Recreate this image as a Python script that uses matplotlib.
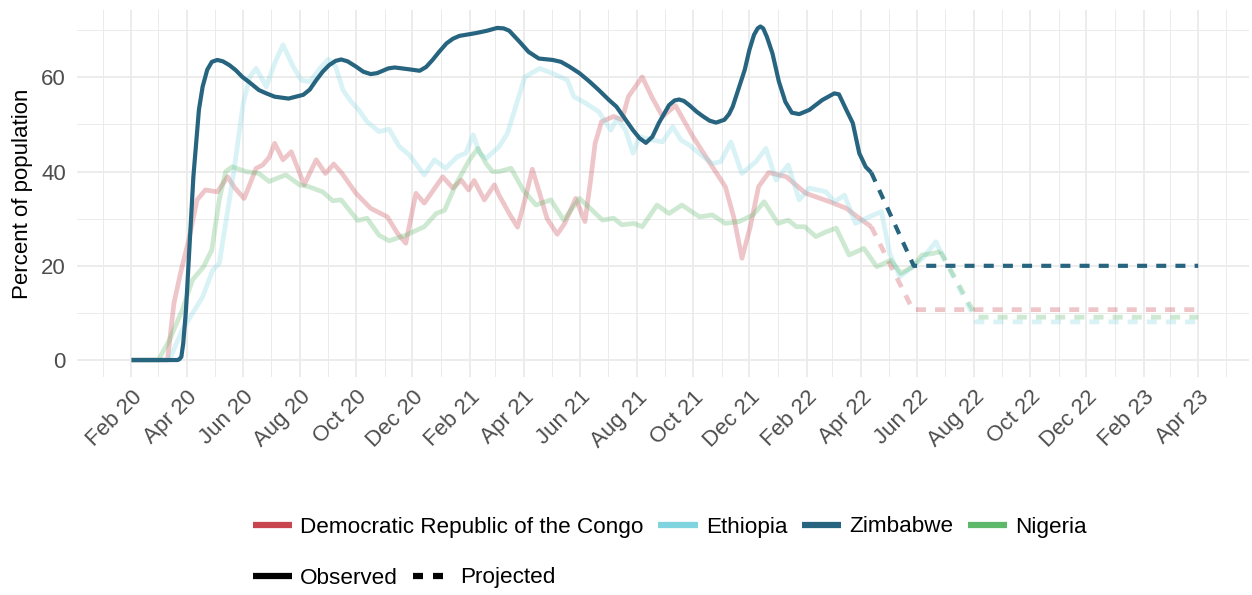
import numpy as np
import pandas as pd
import matplotlib
matplotlib.use("Agg")
import matplotlib.pyplot as plt
import matplotlib.dates as mdates
from matplotlib.lines import Line2D
from matplotlib.ticker import MultipleLocator

plt.rcParams['font.family'] = ['Liberation Sans', 'DejaVu Sans']

# ---- data (percent of population) ----
zim_obs_dates = ["2020-02-01", "2020-03-22", "2020-03-24", "2020-03-26", "2020-03-28", "2020-03-31",
                 "2020-04-02", "2020-04-05", "2020-04-08", "2020-04-11", "2020-04-14", "2020-04-18",
                 "2020-04-23", "2020-04-28", "2020-05-04", "2020-05-10", "2020-05-17", "2020-05-24",
                 "2020-05-31", "2020-06-08", "2020-06-18", "2020-06-26", "2020-07-05", "2020-07-20",
                 "2020-08-05", "2020-08-12", "2020-08-19", "2020-08-26", "2020-09-02", "2020-09-09",
                 "2020-09-15", "2020-09-22", "2020-10-01", "2020-10-09", "2020-10-17", "2020-10-24",
                 "2020-10-30", "2020-11-05", "2020-11-12", "2020-11-20", "2020-11-28", "2020-12-09",
                 "2020-12-16", "2020-12-23", "2020-12-30", "2021-01-07", "2021-01-14", "2021-01-21",
                 "2021-02-08", "2021-02-20", "2021-03-03", "2021-03-10", "2021-03-16", "2021-03-27",
                 "2021-04-06", "2021-04-17", "2021-05-02", "2021-05-11", "2021-05-20", "2021-05-31",
                 "2021-06-11", "2021-06-21", "2021-07-02", "2021-07-10", "2021-07-19", "2021-07-28",
                 "2021-08-04", "2021-08-11", "2021-08-18", "2021-08-25", "2021-09-05", "2021-09-11",
                 "2021-09-16", "2021-09-21", "2021-09-27", "2021-10-05", "2021-10-12", "2021-10-19",
                 "2021-10-26", "2021-11-04", "2021-11-09", "2021-11-13", "2021-11-20", "2021-11-26",
                 "2021-12-01", "2021-12-06", "2021-12-10", "2021-12-13", "2021-12-16", "2021-12-20",
                 "2021-12-26", "2022-01-02", "2022-01-09", "2022-01-16", "2022-01-24", "2022-02-04",
                 "2022-02-18", "2022-03-03", "2022-03-08", "2022-03-16", "2022-03-23", "2022-03-30",
                 "2022-04-06", "2022-04-12"]
zim_obs_vals = [0, 0, 0.2, 0.7, 3.5, 10.6,
                17.7, 28.3, 38.9, 46, 53.1, 58,
                61.6, 63.3, 63.7, 63.4, 62.6, 61.5,
                60.1, 58.9, 57.3, 56.6, 55.9, 55.5,
                56.3, 57.4, 59.4, 61.2, 62.6, 63.5,
                63.8, 63.4, 62.3, 61.2, 60.7, 60.9,
                61.4, 61.9, 62.1, 61.9, 61.7, 61.4,
                62.2, 63.7, 65.4, 67.2, 68.2, 68.8,
                69.4, 69.9, 70.5, 70.4, 69.9, 67.6,
                65.4, 64.0, 63.7, 63.3, 62.3, 60.9,
                59.1, 57.3, 55.2, 53.8, 51.3, 48.8,
                47.1, 46.1, 47.4, 50.3, 54.1, 55.1,
                55.3, 55.0, 54.1, 52.7, 51.7, 50.8,
                50.4, 51.0, 52.2, 53.8, 58.0, 61.6,
                65.8, 69.0, 70.4, 70.8, 70.4, 68.6,
                65.1, 59.1, 54.8, 52.5, 52.2, 53.1,
                55.2, 56.6, 56.4, 53.1, 50.3, 43.9,
                41.0, 39.8]
zim_proj_dates = ["2022-04-12", "2022-05-28", "2023-04-01"]
zim_proj_vals = [39.8, 20.0, 20.0]

drc_obs_dates = ["2020-02-01", "2020-03-11", "2020-03-15", "2020-03-18", "2020-03-25", "2020-04-03",
                 "2020-04-12", "2020-04-21", "2020-05-04", "2020-05-15", "2020-05-23", "2020-06-02",
                 "2020-06-15", "2020-06-22", "2020-06-29", "2020-07-05", "2020-07-14", "2020-07-23",
                 "2020-08-06", "2020-08-19", "2020-08-29", "2020-09-07", "2020-09-16", "2020-10-01",
                 "2020-10-17", "2020-11-04", "2020-11-15", "2020-11-24", "2020-12-05", "2020-12-14",
                 "2021-01-03", "2021-01-14", "2021-01-23", "2021-01-31", "2021-02-06", "2021-02-17",
                 "2021-02-28", "2021-03-05", "2021-03-16", "2021-03-25", "2021-04-02", "2021-04-10",
                 "2021-04-17", "2021-04-26", "2021-05-07", "2021-05-15", "2021-05-27", "2021-06-06",
                 "2021-06-12", "2021-06-17", "2021-06-24", "2021-07-07", "2021-07-16", "2021-07-23",
                 "2021-08-07", "2021-08-18", "2021-08-29", "2021-09-12", "2021-10-01", "2021-10-22",
                 "2021-11-05", "2021-11-14", "2021-11-23", "2021-12-02", "2021-12-11", "2021-12-22",
                 "2022-01-10", "2022-01-31", "2022-02-26", "2022-03-16", "2022-03-30", "2022-04-12"]
drc_obs_vals = [0, 0, 7, 12.1, 18.4, 25.5, 34, 36.1, 35.7, 38.9, 36.5, 34.3, 40.7, 41.4, 43, 46, 42.5,
                44.2, 37.2, 42.5, 39.6, 41.6, 39.6, 35.4, 32.2, 30.4, 26.9, 24.8, 35.4, 33.3, 38.9, 36.5,
                38.2, 36.1, 38.1, 34, 37.2, 35, 31.1, 28.2, 34, 40.5, 36, 30, 26.7, 29, 34.3, 29.4, 38,
                46, 50.6, 51.7, 51, 55.9, 60.1, 55.6, 51.7, 54, 47.4, 41, 36.8, 30.4, 21.6, 28.3, 36.8,
                39.8, 38.9, 35.4, 33.6, 32.2, 30.1, 28.3]
drc_proj_dates = ["2022-04-12", "2022-05-27", "2023-04-01"]
drc_proj_vals = [28.3, 10.7, 10.7]

eth_obs_dates = ["2020-02-01", "2020-03-13", "2020-03-27", "2020-04-07", "2020-04-18", "2020-04-29",
                 "2020-05-06", "2020-05-13", "2020-05-22", "2020-06-01", "2020-06-08", "2020-06-15",
                 "2020-06-26", "2020-07-05", "2020-07-14", "2020-07-25", "2020-08-03", "2020-08-12",
                 "2020-08-23", "2020-09-01", "2020-09-09", "2020-09-17", "2020-09-26", "2020-10-04",
                 "2020-10-13", "2020-10-26", "2020-11-06", "2020-11-17", "2020-11-28", "2020-12-14",
                 "2020-12-25", "2021-01-06", "2021-01-19", "2021-01-28", "2021-02-05", "2021-02-12",
                 "2021-02-19", "2021-03-05", "2021-03-14", "2021-03-23", "2021-04-02", "2021-04-18",
                 "2021-05-06", "2021-05-18", "2021-05-25", "2021-06-07", "2021-06-21", "2021-07-04",
                 "2021-07-11", "2021-07-20", "2021-07-28", "2021-08-04", "2021-08-18", "2021-08-29",
                 "2021-09-09", "2021-09-18", "2021-09-27", "2021-10-12", "2021-10-22", "2021-10-31",
                 "2021-11-11", "2021-11-23", "2021-12-08", "2021-12-19", "2021-12-30", "2022-01-12",
                 "2022-01-24", "2022-02-04", "2022-02-22", "2022-03-03", "2022-03-14", "2022-03-26",
                 "2022-04-10", "2022-04-23", "2022-05-02", "2022-05-13", "2022-05-27", "2022-06-08",
                 "2022-06-21", "2022-06-26"]
eth_obs_vals = [0, 0, 6.4, 9.9, 13.4, 19.1, 20.5, 29, 40.3, 54.5, 60.1, 61.9, 58, 63, 66.9, 62.3, 59.4,
                59.1, 61.9, 63.8, 62.3, 57.3, 54.8, 53.1, 50.6, 48.5, 49, 45.3, 43.5, 39.3, 42.5, 40.7,
                43.2, 43.9, 47.8, 43.9, 42.8, 45.3, 48.1, 53.8, 60.1, 61.9, 60.5, 59.4, 55.9, 54.5, 52.7,
                48.8, 51.3, 48.8, 43.9, 47.4, 46.7, 46.3, 49.5, 46.7, 45.6, 43.2, 41.7, 42.1, 46.3, 39.6,
                42.1, 44.9, 38.2, 41.4, 34, 36.5, 35.7, 33.6, 35, 29, 30.4, 31.5, 22.6, 17.7, 19.8, 21.9,
                25.1, 23]
eth_proj_dates = ["2022-06-26", "2022-08-04", "2023-04-01"]
eth_proj_vals = [23, 8.1, 8.1]

nga_obs_dates = ["2020-02-01", "2020-03-01", "2020-03-13", "2020-03-27", "2020-04-07", "2020-04-19",
                 "2020-04-28", "2020-05-06", "2020-05-13", "2020-05-20", "2020-06-04", "2020-06-18",
                 "2020-06-29", "2020-07-17", "2020-08-01", "2020-08-11", "2020-08-26", "2020-09-06",
                 "2020-09-15", "2020-10-03", "2020-10-13", "2020-10-26", "2020-11-06", "2020-11-24",
                 "2020-12-14", "2020-12-27", "2021-01-05", "2021-01-17", "2021-02-01", "2021-02-10",
                 "2021-02-19", "2021-02-26", "2021-03-05", "2021-03-18", "2021-03-31", "2021-04-14",
                 "2021-04-30", "2021-05-14", "2021-05-31", "2021-06-10", "2021-06-25", "2021-07-07",
                 "2021-07-16", "2021-07-29", "2021-08-07", "2021-08-23", "2021-09-05", "2021-09-19",
                 "2021-10-08", "2021-10-22", "2021-11-05", "2021-11-20", "2021-12-05", "2021-12-17",
                 "2022-01-01", "2022-01-12", "2022-01-21", "2022-01-30", "2022-02-11", "2022-02-22",
                 "2022-03-05", "2022-03-19", "2022-04-04", "2022-04-18", "2022-05-03", "2022-05-14",
                 "2022-05-27", "2022-06-06", "2022-06-17", "2022-06-26"]
nga_obs_vals = [0, 0, 4.2, 10.6, 17, 19.8, 23.4, 34, 40, 41, 40, 39.6, 37.9, 39.3, 37.2, 36.8, 35.7,
                33.8, 34, 29.6, 30.1, 26.5, 25.3, 26.5, 28.3, 31.1, 31.8, 37.2, 42.5, 44.9, 41.7, 40,
                40, 40.7, 36.1, 32.9, 34, 29.7, 34.3, 32.5, 29.7, 30.1, 28.7, 29, 28.3, 32.9, 31.1, 32.9,
                30.4, 30.8, 29, 29.4, 30.8, 33.6, 29, 29.7, 28.3, 28.3, 26.2, 27.2, 28, 22.3, 23.7, 19.8,
                21.2, 18.4, 19.8, 22.3, 22.6, 23]
nga_proj_dates = ["2022-06-26", "2022-08-04", "2023-04-01"]
nga_proj_vals = [23, 9.1, 9.1]

countries = ["Democratic Republic of the Congo", "Ethiopia", "Zimbabwe", "Nigeria"]
colors = {"Democratic Republic of the Congo": "#c8454f", "Ethiopia": "#7fd4df",
          "Zimbabwe": "#27647f", "Nigeria": "#5db86a"}
series = {
    "Democratic Republic of the Congo": (drc_obs_dates, drc_obs_vals, drc_proj_dates, drc_proj_vals),
    "Ethiopia": (eth_obs_dates, eth_obs_vals, eth_proj_dates, eth_proj_vals),
    "Nigeria": (nga_obs_dates, nga_obs_vals, nga_proj_dates, nga_proj_vals),
    "Zimbabwe": (zim_obs_dates, zim_obs_vals, zim_proj_dates, zim_proj_vals),
}

fig = plt.figure(figsize=(12.52, 5.95), dpi=100)
ax = fig.add_axes([77 / 1252, 1 - 377 / 595, (1249 - 77) / 1252, 367 / 595])

for name in ["Democratic Republic of the Congo", "Ethiopia", "Nigeria", "Zimbabwe"]:
    od, ov, pd_, pv = series[name]
    if name == "Zimbabwe":
        a, lw = 1.0, 3.0
    else:
        a, lw = 0.3, 3.4
    dash = (0, (7.2 / lw, 6.6 / lw))
    ax.plot(pd.to_datetime(pd_), pv, color=colors[name], lw=lw, alpha=a, ls=dash,
            dash_capstyle='butt')
    ax.plot(pd.to_datetime(od), ov, color=colors[name], lw=lw, alpha=a,
            solid_capstyle='butt', solid_joinstyle='round')

ax.set_xlim(pd.Timestamp("2019-12-04"), pd.Timestamp("2023-05-26"))
ax.set_ylim(-3.6, 74.3)

ax.xaxis.set_major_locator(mdates.MonthLocator(bymonth=[2, 4, 6, 8, 10, 12]))
ax.xaxis.set_minor_locator(mdates.MonthLocator())
ax.xaxis.set_major_formatter(mdates.DateFormatter("%b %y"))
ax.yaxis.set_major_locator(MultipleLocator(20))
ax.yaxis.set_minor_locator(MultipleLocator(10))

ax.grid(which='major', color='#ebebeb', lw=1.3)
ax.grid(which='minor', color='#ebebeb', lw=0.7)
ax.set_axisbelow(True)
for s in ax.spines.values():
    s.set_visible(False)
ax.tick_params(which='both', length=0, labelsize=16, labelcolor='#4d4d4d')
ax.tick_params(axis='y', pad=8)
ax.tick_params(axis='x', pad=7)
for lab in ax.get_xticklabels():
    lab.set_rotation(45)
    lab.set_ha('right')
    lab.set_va('top')
    lab.set_rotation_mode('anchor')

ax.set_ylabel("Percent of population", fontsize=16, color='black', labelpad=6)

# legends
col_handles = [Line2D([], [], color=colors[c], lw=4.5, solid_capstyle='butt') for c in countries]
leg1 = fig.legend(col_handles, countries, loc='center left', bbox_to_anchor=(253 / 1252, 1 - 527 / 595),
                  ncol=4, frameon=False, fontsize=16.2, handlelength=1.75, handletextpad=0.35,
                  columnspacing=0.65, borderpad=0, borderaxespad=0)
lt_handles = [Line2D([], [], color='black', lw=4.5, solid_capstyle='butt'),
              Line2D([], [], color='black', lw=4.5, ls=(0, (1.6, 1.6)), dash_capstyle='butt')]
leg2 = fig.legend(lt_handles, ["Observed", "Projected"], loc='center left',
                  bbox_to_anchor=(253 / 1252, 1 - 578 / 595), ncol=2, frameon=False, fontsize=16.2,
                  handlelength=1.75, handletextpad=0.35, columnspacing=0.65, borderpad=0, borderaxespad=0)

fig.savefig("out.png", dpi=100)
